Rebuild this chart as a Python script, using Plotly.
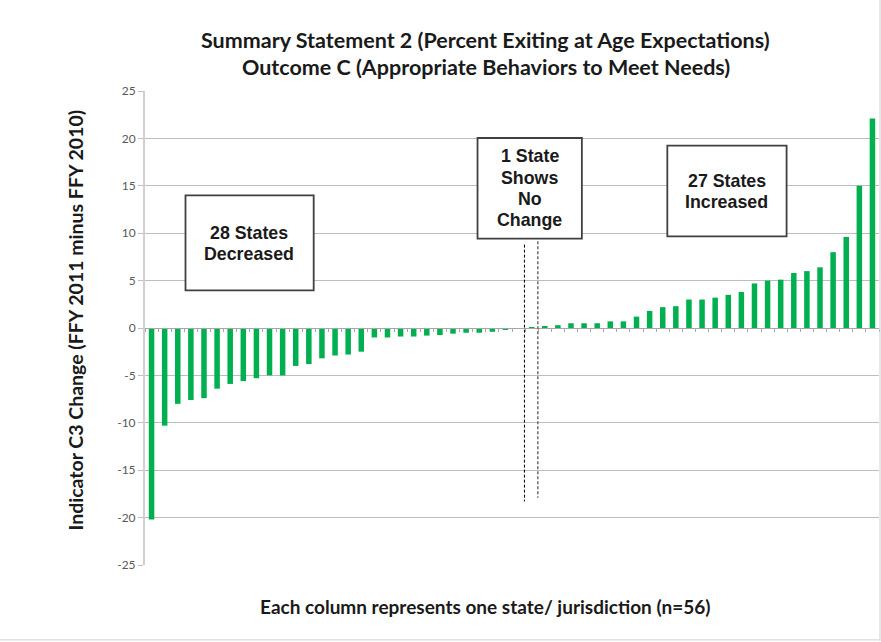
import plotly.graph_objects as go

states = list(range(1, 57))
change = [-20.2, -10.3, -8.0, -7.6, -7.4, -6.4, -5.9, -5.6, -5.3, -5.0,
          -5.0, -4.0, -3.8, -3.2, -2.9, -2.8, -2.5, -1.0, -1.0, -0.9,
          -0.9, -0.8, -0.75, -0.6, -0.5, -0.5, -0.4, -0.2, 0.0, 0.1,
          0.15, 0.3, 0.5, 0.5, 0.5, 0.7, 0.7, 1.2, 1.8, 2.2,
          2.3, 3.0, 3.0, 3.2, 3.5, 3.8, 4.7, 5.0, 5.1, 5.8,
          6.0, 6.4, 8.0, 9.6, 15.0, 22.1]
y_ticks = [-25, -20, -15, -10, -5, 0, 5, 10, 15, 20, 25]
y_tick_labels = ["-25", "-20", "-15", "-10", "-5", "0", "5", "10", "15", "20", "25"]

title_lines = ["Summary Statement 2 (Percent Exiting at Age Expectations)",
               "Outcome C (Appropriate Behaviors to Meet Needs)"]
y_title = "Indicator C3 Change (FFY 2011 minus FFY 2010)"
x_title = "Each column represents one state/ jurisdiction (n=56)"
box_texts = [["28 States", "Decreased"],
             ["1 State", "Shows", "No", "Change"],
             ["27 States", "Increased"]]

TFONT = "Lato, 'Open Sans', sans-serif"
BFONT = "'Liberation Sans', Arial, sans-serif"

fig = go.Figure()
fig.add_trace(go.Bar(x=states, y=change, marker=dict(color="#00b050", line=dict(width=0)),
                     width=0.42, hoverinfo="x+y"))

shapes = []
boxes = [(3.59, 13.37, 3.97, 13.99), (25.87, 33.83, 9.42, 20.04), (40.35, 49.45, 9.66, 19.23)]
for (x0, x1, y0, y1) in boxes:
    shapes.append(dict(type="rect", xref="x", yref="y", x0=x0, x1=x1, y0=y0, y1=y1,
                       line=dict(color="#404040", width=1.8), fillcolor="white", layer="above"))
shapes.append(dict(type="line", xref="x", yref="y", x0=29.45, x1=29.45, y0=8.79, y1=-18.29,
                   line=dict(color="#000000", width=1, dash="3px,2px")))
shapes.append(dict(type="line", xref="x", yref="y", x0=30.47, x1=30.47, y0=9.14, y1=-17.9,
                   line=dict(color="#6e6e6e", width=1.5, dash="3px,2px")))
# chart frame (right & bottom)
shapes.append(dict(type="line", xref="paper", yref="paper", x0=1.0014, x1=1.0014, y0=-0.16, y1=1.2,
                   line=dict(color="#d0d0d0", width=1)))
shapes.append(dict(type="line", xref="paper", yref="paper", x0=-0.2, x1=1.0014, y0=-0.158, y1=-0.158,
                   line=dict(color="#d0d0d0", width=1)))

annotations = []
# text centre (x, first-line y) and line step in data units
text_pos = [(8.47, 10.05, 2.21), (29.85, 18.10, 2.23), (44.9, 15.46, 2.15)]
for (cx, y_first, step), lines in zip(text_pos, box_texts):
    for k, t in enumerate(lines):
        annotations.append(dict(x=cx, y=y_first - k * step, xref="x", yref="y",
                                text="<b>" + t + "</b>", showarrow=False,
                                font=dict(family=BFONT, size=17.8, color="#1a1a1a"),
                                xanchor="center", yanchor="middle"))
for yy, t in zip([1.1076, 1.0506], title_lines):
    annotations.append(dict(x=0.4643, y=yy, xref="paper", yref="paper", text="<b>" + t + "</b>",
                            showarrow=False, font=dict(family=TFONT, size=21.5, color="#1a1a1a"),
                            xanchor="center", yanchor="middle"))
annotations.append(dict(x=-0.0946, y=0.517, xref="paper", yref="paper", text="<b>" + y_title + "</b>",
                        showarrow=False, textangle=-90, font=dict(family=TFONT, size=19.5, color="#1a1a1a"),
                        xanchor="center", yanchor="middle"))
annotations.append(dict(x=0.4643, y=-0.0865, xref="paper", yref="paper", text="<b>" + x_title + "</b>",
                        showarrow=False, font=dict(family=TFONT, size=19, color="#1a1a1a"),
                        xanchor="center", yanchor="middle"))

fig.update_layout(
    width=881, height=642,
    margin=dict(l=144.5, r=2, t=91, b=77, autoexpand=False),
    paper_bgcolor="white", plot_bgcolor="white",
    showlegend=False, shapes=shapes, annotations=annotations,
    xaxis=dict(range=[0.5, 56.5], anchor="free", position=0.5, showline=True,
               linecolor="#a6a6a6", linewidth=1, ticks="outside", ticklen=3,
               tickcolor="#a6a6a6", tick0=0.5, dtick=1, showticklabels=False,
               showgrid=False, zeroline=False),
    yaxis=dict(range=[-25, 25], tickvals=y_ticks, ticktext=y_tick_labels, showgrid=True,
               gridcolor="#bdbdbd", gridwidth=1, showline=True, linecolor="#d0d0d0", linewidth=2,
               ticks="outside", ticklen=5, tickcolor="#bfbfbf", zeroline=False,
               tickfont=dict(family=TFONT, size=12, color="#595959")),
)

fig.write_html("out.html", config={"displayModeBar": False},
               post_script="document.body.style.margin='0';")
